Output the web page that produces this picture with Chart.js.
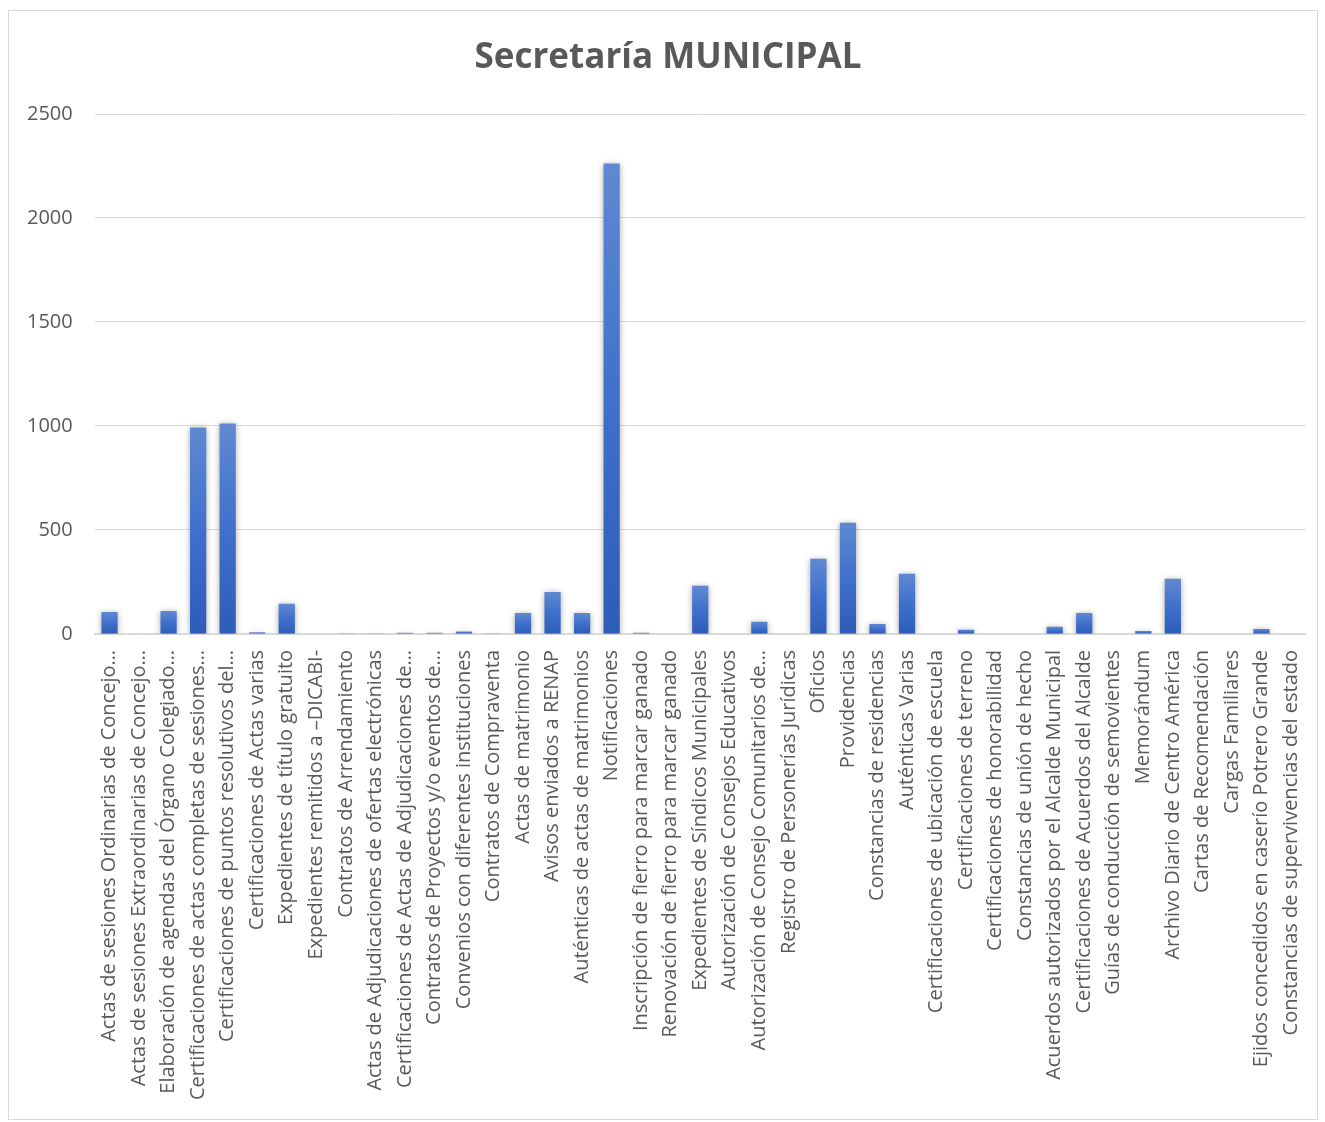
<!DOCTYPE html>
<html>
<head>
<meta charset="utf-8">
<script src="https://cdn.jsdelivr.net/npm/chart.js@4/dist/chart.umd.min.js"></script>
<style>
  html, body { margin: 0; padding: 0; background: #ffffff; overflow: hidden; }
  #frame { position: absolute; left: 8px; top: 10px; width: 1310px; height: 1110px; border: 1px solid #d9d9d9; box-sizing: border-box; }
  #wrap { position: absolute; left: 9px; top: 11px; width: 1322px; height: 1108px; }
  canvas { display: block; }
</style>
</head>
<body>
<div id="frame"></div>
<div id="wrap"><canvas id="c"></canvas></div>
<script>
const chartTitle = "Secretaría MUNICIPAL";

const categories = [
  "Actas de sesiones Ordinarias de Concejo…",
  "Actas de sesiones Extraordinarias de Concejo…",
  "Elaboración de agendas del Órgano Colegiado…",
  "Certificaciones de actas completas de sesiones…",
  "Certificaciones de puntos resolutivos del…",
  "Certificaciones de Actas varias",
  "Expedientes de título gratuito",
  "Expedientes remitidos a –DICABI-",
  "Contratos de Arrendamiento",
  "Actas de Adjudicaciones de ofertas electrónicas",
  "Certificaciones de Actas de Adjudicaciones de…",
  "Contratos de Proyectos y/o eventos de…",
  "Convenios con diferentes instituciones",
  "Contratos de Compraventa",
  "Actas de matrimonio",
  "Avisos enviados a RENAP",
  "Auténticas de actas de matrimonios",
  "Notificaciones",
  "Inscripción de fierro para marcar ganado",
  "Renovación de fierro para marcar ganado",
  "Expedientes de Síndicos Municipales",
  "Autorización de Consejos Educativos",
  "Autorización de Consejo Comunitarios de…",
  "Registro de Personerías Jurídicas",
  "Oficios",
  "Providencias",
  "Constancias de residencias",
  "Auténticas Varias",
  "Certificaciones de ubicación de escuela",
  "Certificaciones de terreno",
  "Certificaciones de honorabilidad",
  "Constancias de unión de hecho",
  "Acuerdos autorizados por el Alcalde Municipal",
  "Certificaciones de Acuerdos del Alcalde",
  "Guías de conducción de semovientes",
  "Memorándum",
  "Archivo Diario de Centro América",
  "Cartas de Recomendación",
  "Cargas Familiares",
  "Ejidos concedidos en caserío Potrero Grande",
  "Constancias de supervivencias del estado"
];

const values = [
  105, 2, 110, 992, 1012, 8, 145, 0, 1, 1,
  5, 5, 12, 1, 100, 202, 100, 2262, 6, 0,
  231, 0, 58, 0, 361, 535, 48, 289, 0, 20,
  0, 0, 34, 101, 0, 14, 265, 0, 0, 24,
  0
];

const yTicks = [0, 500, 1000, 1500, 2000, 2500];

const shadowPlugin = {
  id: 'barShadow',
  beforeDatasetsDraw(chart) {
    const ctx = chart.ctx;
    ctx.save();
    ctx.shadowColor = 'rgba(0,0,0,0.35)';
    ctx.shadowBlur = 6;
    ctx.shadowOffsetX = 0;
    ctx.shadowOffsetY = 1;
  },
  afterDatasetsDraw(chart) {
    chart.ctx.restore();
  }
};

function barGradient(context) {
  const chart = context.chart;
  const { ctx, chartArea, scales } = chart;
  if (!chartArea || context.type !== 'data') return '#4472c4';
  const v = context.raw || 0;
  const top = scales.y.getPixelForValue(v);
  const bottom = scales.y.getPixelForValue(0);
  if (!(bottom > top)) return '#3a67c3';
  const g = ctx.createLinearGradient(0, top, 0, bottom);
  g.addColorStop(0, '#6189d1');
  g.addColorStop(0.5, '#3f70cc');
  g.addColorStop(1, '#2d5db8');
  return g;
}

new Chart(document.getElementById('c'), {
  type: 'bar',
  data: {
    labels: categories,
    datasets: [{
      data: values,
      backgroundColor: barGradient,
      borderWidth: 0,
      barPercentage: 0.55,
      categoryPercentage: 1.0
    }]
  },
  plugins: [shadowPlugin],
  options: {
    responsive: true,
    maintainAspectRatio: false,
    animation: false,
    layout: { padding: { left: -4, right: 0, top: 17, bottom: 3 } },
    plugins: {
      legend: { display: false },
      tooltip: { enabled: false },
      title: {
        display: true,
        text: chartTitle,
        color: '#595959',
        font: { family: 'Open Sans', size: 35, weight: 'bold' },
        padding: { top: 9, bottom: 35 }
      }
    },
    scales: {
      x: {
        grid: { display: false, drawTicks: false },
        border: { display: true, color: '#d9d9d9', width: 2 },
        ticks: {
          autoSkip: false,
          minRotation: 90,
          maxRotation: 90,
          padding: 16,
          color: '#595959',
          font: { family: 'Open Sans', size: 20 }
        }
      },
      y: {
        min: 0,
        max: 2500,
        afterBuildTicks(axis) { axis.ticks = yTicks.map(v => ({ value: v })); },
        grid: { color: '#d9d9d9', lineWidth: 1, drawTicks: false },
        border: { display: false },
        ticks: {
          padding: 22,
          color: '#595959',
          font: { family: 'Open Sans', size: 20 },
          callback: (v) => String(v)
        }
      }
    }
  }
});
</script>
</body>
</html>
